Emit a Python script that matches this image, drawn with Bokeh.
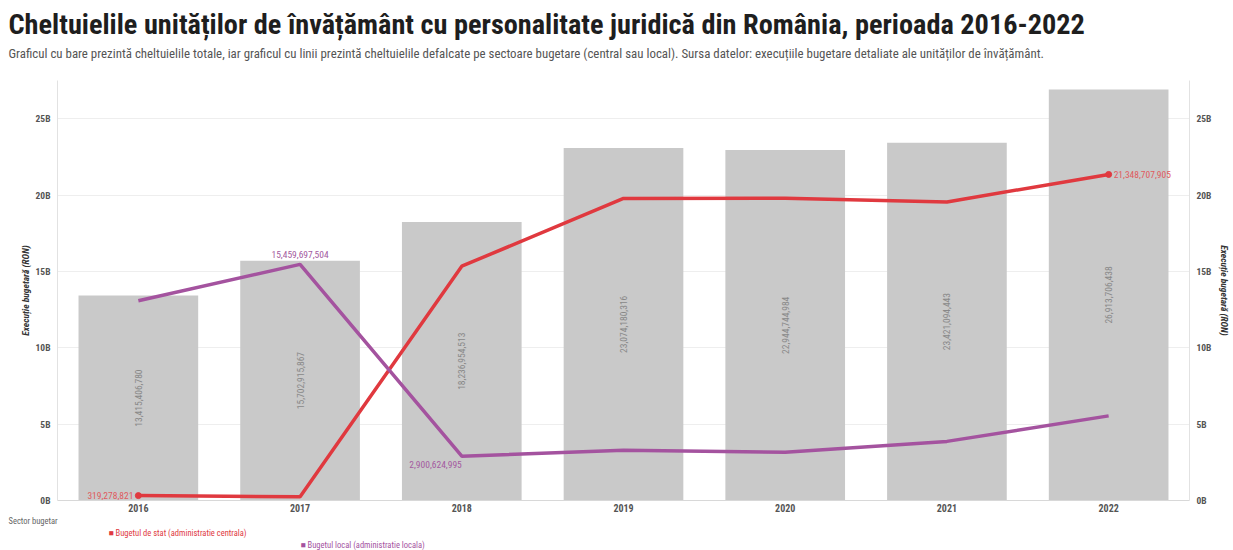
import math
from bokeh.plotting import figure
from bokeh.models import (Range1d, FactorRange, LinearAxis, FixedTicker, Title,
                          CustomJSTickFormatter, ColumnDataSource)
from bokeh.core.properties import value
from bokeh.embed import file_html
from bokeh.resources import INLINE

# ---------------- data ----------------
years = ["2016", "2017", "2018", "2019", "2020", "2021", "2022"]
total = [13415406780, 15702915867, 18236954513, 23074180316, 22944744984, 23421094443, 26913706438]
stat = [319278821, 240000000, 15340000000, 19780000000, 19790000000, 19550000000, 21348707905]
local = [13080000000, 15459697504, 2900624995, 3290000000, 3160000000, 3870000000, 5540000000]
y_ticks = [0, 5e9, 10e9, 15e9, 20e9, 25e9]

title_text = "Cheltuielile unităților de învățământ cu personalitate juridică din România, perioada 2016-2022"
subtitle_text = ("Graficul cu bare prezintă cheltuielile totale, iar graficul cu linii prezintă cheltuielile "
                 "defalcate pe sectoare bugetare (central sau local). Sursa datelor: execuțiile bugetare "
                 "detaliate ale unităților de învățământ.")
axis_title = "Execuție bugetară (RON)"
legend_title = "Sector bugetar"
series_names = ["Bugetul de stat (administratie centrala)", "Bugetul local (administratie locala)"]

RED = "#e0393f"
PURPLE = "#a4539f"
BAR = "#c9c9c9"
COND = "Roboto Condensed"

W, H = 1233, 550
ML, MR, MT, MB = 57, 40, 80, 43

p = figure(width=W, height=H, x_range=FactorRange(*years), y_range=Range1d(0, 27.5e9),
           output_backend="svg", toolbar_location=None,
           min_border_left=ML, min_border_right=MR, min_border_top=MT, min_border_bottom=MB)
p.outline_line_color = None
p.xgrid.visible = False
p.ygrid.ticker = FixedTicker(ticks=y_ticks)
p.ygrid.grid_line_color = "#eeeeee"

src = ColumnDataSource(dict(year=years, total=total, half=[t / 2 for t in total],
                            lab=[f"{t:,}" for t in total]))
p.vbar(x="year", top="total", width=0.74, source=src, fill_color=BAR, line_color=None)
p.text(x="year", y="half", text="lab", source=src, angle=math.pi / 2, text_align="center",
       text_baseline="middle", text_font_size="9.5px", text_color="#888888",
       text_font=value(COND))

p.line(x=years, y=stat, line_color=RED, line_width=3.5)
p.line(x=years, y=local, line_color=PURPLE, line_width=3.5)
p.scatter(x=[years[0], years[-1]], y=[stat[0], stat[-1]], size=6, color=RED)

# line labels
lab_kw = dict(text_font_size="9.5px", text_font=value(COND))
p.text(x=[years[0]], y=[stat[0]], text=[f"{stat[0]:,}"], text_align="right", text_baseline="middle",
       x_offset=-5, text_color="#e05a5e", **lab_kw)
p.text(x=[years[-1]], y=[stat[-1]], text=[f"{stat[-1]:,}"], text_align="left", text_baseline="middle",
       x_offset=5, text_color="#e05a5e", **lab_kw)
p.text(x=[years[1]], y=[local[1]], text=[f"{local[1]:,}"], text_align="center", text_baseline="bottom",
       y_offset=-6, text_color="#a45aa0", **lab_kw)
p.text(x=[years[2]], y=[local[2]], text=[f"{local[2]:,}"], text_align="right", text_baseline="top",
       y_offset=5, text_color="#a45aa0", **lab_kw)

fmt = CustomJSTickFormatter(code="return (tick/1e9).toFixed(0) + 'B';")
p.yaxis.ticker = FixedTicker(ticks=y_ticks)
p.yaxis.formatter = fmt
right = LinearAxis(ticker=FixedTicker(ticks=y_ticks), formatter=fmt)
p.add_layout(right, "right")

for ax in [p.yaxis[0], right]:
    ax.axis_label = axis_title
    ax.axis_label_text_font = COND
    ax.axis_label_text_font_style = "bold italic"
    ax.axis_label_text_font_size = "9.5px"
    ax.axis_label_text_color = "#333333"
    ax.axis_label_standoff = 5
    ax.major_label_text_font = COND
    ax.major_label_text_font_style = "bold"
    ax.major_label_text_font_size = "9.5px"
    ax.major_label_text_color = "#555555"
    ax.major_tick_line_color = None
    ax.major_tick_out = 0
    ax.major_tick_in = 0
    ax.minor_tick_line_color = None
    ax.minor_tick_out = 0
    ax.minor_tick_in = 0
    ax.axis_line_color = "#e2e2e2"
    ax.major_label_standoff = 7
p.yaxis[0].axis_label_standoff = 2

p.xaxis.major_label_text_font = COND
p.xaxis.major_label_text_font_style = "bold"
p.xaxis.major_label_text_font_size = "10px"
p.xaxis.major_label_text_color = "#555555"
p.xaxis.major_tick_line_color = None
p.xaxis.major_tick_out = 0
p.xaxis.major_tick_in = 0
p.xaxis.axis_line_color = "#d8d8d8"
p.xaxis.major_label_standoff = 3

# ---------------- header (titles stacked above the frame) ----------------
# first added = closest to the frame
p.add_layout(Title(text=" ", text_font=COND, text_font_size="10px", standoff=4), "above")
p.add_layout(Title(text=subtitle_text, text_font=COND, text_font_size="12.9px",
                   text_font_style="normal", text_color="#555555", align="left",
                   vertical_align="top", offset=8 - ML, standoff=1), "above")
p.add_layout(Title(text=title_text, text_font=COND, text_font_size="28.3px",
                   text_font_style="bold", text_color="#1e1e1e", align="left",
                   vertical_align="bottom", offset=8 - ML, standoff=9), "above")

# ---------------- footer: legend rows below the x axis ----------------
p.add_layout(Title(text=legend_title, text_font=COND, text_font_size="8.5px",
                   text_font_style="normal", text_color="#666666", align="left",
                   vertical_align="middle", offset=8 - ML, standoff=0), "below")
for name, col, xpos in zip(series_names, [RED, PURPLE], [108, 300]):
    p.add_layout(Title(text="■ " + name, text_font=COND, text_font_size="8.5px",
                       text_font_style="normal", text_color=col, align="left",
                       vertical_align="middle", offset=xpos - ML, standoff=0), "below")

open("out.html", "w").write(file_html(p, INLINE))
